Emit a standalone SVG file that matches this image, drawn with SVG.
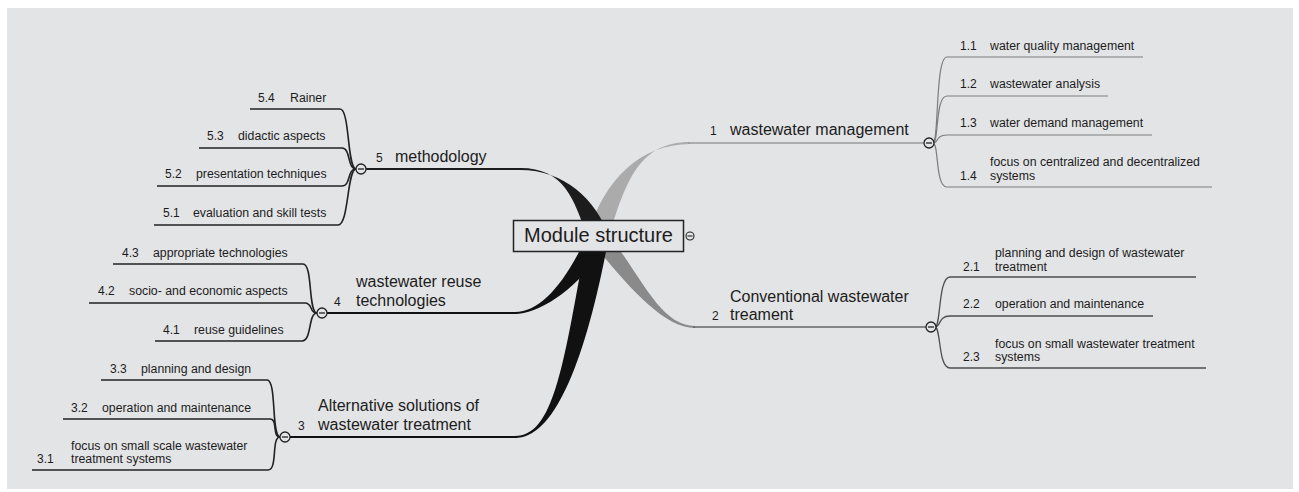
<svg xmlns="http://www.w3.org/2000/svg" width="1299" height="492" viewBox="0 0 1299 492">
  <style>
    text { font-family: "Liberation Sans", Arial, sans-serif; fill: #1c1c1c; }
    .num { font-size: 12px; }
    .sub { font-size: 12.3px; }
    .main { font-size: 16px; }
    .root { font-size: 20px; }
    .fold { fill: #e3e4e6; stroke: #222; stroke-width: 1.3; }
    .minus { stroke: #222; stroke-width: 1.3; }
    .leaf1 { fill: none; stroke: #7c7c7c; stroke-width: 1.2; }
    .leaf2 { fill: none; stroke: #4e4e4e; stroke-width: 1.3; }
    .leafL { fill: none; stroke: #222; stroke-width: 1.6; }
  </style>

  <!-- canvas -->
  <rect x="0" y="0" width="1299" height="492" fill="#ffffff"/>
  <rect x="7" y="8" width="1286" height="481" fill="#e3e4e6"/>

  <g id="connectors">
    <!-- tapered main branches out of the root -->
    <path d="M587,236 C604,180 640,144 690,144 L690,142 C640,142 626,180 609,236 Z" fill="#ababab"/>
    <path d="M587,236 C619,275 660,328 695,328 L695,326 C660,326 641,275 609,236 Z" fill="#8a8a8a"/>
    <path d="M609,236 C596,200 565,170 520,170 L520,168 C565,168 574,200 587,236 Z" fill="#1c1c1c"/>
    <path d="M609,236 C586,285 540,314 515,314 L515,312 C540,312 564,285 587,236 Z" fill="#111"/>
    <path d="M609,236 C586,360 555,438 515,438 L515,436 C555,436 564,360 587,236 Z" fill="#111"/>

    <!-- main branch lines -->
    <line x1="688" y1="143" x2="924" y2="143" stroke="#9a9a9a" stroke-width="1.6"/>
    <line x1="693" y1="327" x2="926" y2="327" stroke="#666" stroke-width="1.6"/>
    <line x1="366" y1="169" x2="522" y2="169" stroke="#1c1c1c" stroke-width="2"/>
    <line x1="327" y1="313" x2="517" y2="313" stroke="#111" stroke-width="1.8"/>
    <line x1="290" y1="437" x2="517" y2="437" stroke="#111" stroke-width="1.8"/>

    <!-- sub-topics of 1 -->
    <path class="leaf1" d="M933,143 C939,143 935,57 947,57 L1143,57"/>
    <path class="leaf1" d="M933,143 C939,143 935,96 947,96 L1108,96"/>
    <path class="leaf1" d="M933,143 C939,143 935,135 947,135 L1152,135"/>
    <path class="leaf1" d="M933,143 C939,143 935,187 947,187 L1212,187"/>

    <!-- sub-topics of 2 -->
    <path class="leaf2" d="M935,327 C941,327 938,277 950,277 L1196,277"/>
    <path class="leaf2" d="M935,327 C941,327 938,316 950,316 L1153,316"/>
    <path class="leaf2" d="M935,327 C941,327 938,368 950,368 L1206,368"/>

    <!-- sub-topics of 5 -->
    <path class="leafL" d="M250,109 L340,109 C350,109 347,169 356,169"/>
    <path class="leafL" d="M199,148 L342,148 C351,148 347,169 356,169"/>
    <path class="leafL" d="M157,186 L342,186 C351,186 347,169 356,169"/>
    <path class="leafL" d="M154,225 L338,225 C349,225 347,169 356,169"/>

    <!-- sub-topics of 4 -->
    <path class="leafL" d="M113,264 L303,264 C313,264 308,313 317,313"/>
    <path class="leafL" d="M89,303 L305,303 C313,303 309,313 317,313"/>
    <path class="leafL" d="M155,341 L302,341 C312,341 308,313 317,313"/>

    <!-- sub-topics of 3 -->
    <path class="leafL" d="M101,380 L267,380 C277,380 271,437 280,437"/>
    <path class="leafL" d="M63,419 L270,419 C278,419 272,437 280,437"/>
    <path class="leafL" d="M32,470 L268,470 C278,470 271,437 280,437"/>
  </g>

  <g id="root">
    <rect x="513.5" y="220.5" width="170" height="31" fill="#e3e4e6" stroke="#222" stroke-width="1.5"/>
    <text class="root" x="598.5" y="242" text-anchor="middle">Module structure</text>
    <circle cx="690" cy="236" r="4" fill="#e3e4e6" stroke="#222" stroke-width="1.1"/>
    <line x1="687.5" y1="236" x2="692.5" y2="236" stroke="#222" stroke-width="1.1"/>
  </g>

  <g id="topic-1">
    <text class="num" x="710" y="135">1</text>
    <text class="main" x="730" y="135">wastewater management</text>
    <circle class="fold" cx="929" cy="143" r="5"/>
    <line class="minus" x1="926" y1="143" x2="932" y2="143"/>
  </g>
  <g id="topic-1-1"><text class="num" x="960" y="50">1.1</text><text class="sub" x="990" y="50">water quality management</text></g>
  <g id="topic-1-2"><text class="num" x="960" y="88">1.2</text><text class="sub" x="990" y="88">wastewater analysis</text></g>
  <g id="topic-1-3"><text class="num" x="960" y="127">1.3</text><text class="sub" x="990" y="127">water demand management</text></g>
  <g id="topic-1-4"><text class="num" x="960" y="180">1.4</text><text class="sub" x="990" y="166">focus on centralized and decentralized</text><text class="sub" x="990" y="180">systems</text></g>

  <g id="topic-2">
    <text class="main" x="730" y="302">Conventional wastewater</text>
    <text class="num" x="712" y="320">2</text>
    <text class="main" x="730" y="320">treament</text>
    <circle class="fold" cx="931" cy="327" r="5"/>
    <line class="minus" x1="928" y1="327" x2="934" y2="327"/>
  </g>
  <g id="topic-2-1"><text class="num" x="963" y="271">2.1</text><text class="sub" x="995" y="257">planning and design of wastewater</text><text class="sub" x="995" y="271">treatment</text></g>
  <g id="topic-2-2"><text class="num" x="963" y="308">2.2</text><text class="sub" x="995" y="308">operation and maintenance</text></g>
  <g id="topic-2-3"><text class="num" x="963" y="361">2.3</text><text class="sub" x="995" y="348">focus on small wastewater treatment</text><text class="sub" x="995" y="361">systems</text></g>

  <g id="topic-5">
    <text class="num" x="376" y="162">5</text>
    <text class="main" x="395" y="162">methodology</text>
    <circle class="fold" cx="361" cy="169" r="5"/>
    <line class="minus" x1="358" y1="169" x2="364" y2="169"/>
  </g>
  <g id="topic-5-4"><text class="num" x="258" y="102">5.4</text><text class="sub" x="290" y="102">Rainer</text></g>
  <g id="topic-5-3"><text class="num" x="207" y="140">5.3</text><text class="sub" x="238" y="140">didactic aspects</text></g>
  <g id="topic-5-2"><text class="num" x="165" y="178">5.2</text><text class="sub" x="196" y="178">presentation techniques</text></g>
  <g id="topic-5-1"><text class="num" x="163" y="217">5.1</text><text class="sub" x="193" y="217">evaluation and skill tests</text></g>

  <g id="topic-4">
    <text class="main" x="356" y="287">wastewater reuse</text>
    <text class="num" x="334" y="306">4</text>
    <text class="main" x="356" y="306">technologies</text>
    <circle class="fold" cx="322" cy="313" r="5"/>
    <line class="minus" x1="319" y1="313" x2="325" y2="313"/>
  </g>
  <g id="topic-4-3"><text class="num" x="122" y="257">4.3</text><text class="sub" x="153" y="257">appropriate technologies</text></g>
  <g id="topic-4-2"><text class="num" x="98" y="295">4.2</text><text class="sub" x="129" y="295">socio- and economic aspects</text></g>
  <g id="topic-4-1"><text class="num" x="163" y="334">4.1</text><text class="sub" x="194" y="334">reuse guidelines</text></g>

  <g id="topic-3">
    <text class="main" x="318" y="411">Alternative solutions of</text>
    <text class="num" x="298" y="430">3</text>
    <text class="main" x="318" y="430">wastewater treatment</text>
    <circle class="fold" cx="285" cy="437" r="5"/>
    <line class="minus" x1="282" y1="437" x2="288" y2="437"/>
  </g>
  <g id="topic-3-3"><text class="num" x="110" y="373">3.3</text><text class="sub" x="141" y="373">planning and design</text></g>
  <g id="topic-3-2"><text class="num" x="71" y="412">3.2</text><text class="sub" x="102" y="412">operation and maintenance</text></g>
  <g id="topic-3-1"><text class="num" x="37" y="463">3.1</text><text class="sub" x="71" y="450">focus on small scale wastewater</text><text class="sub" x="71" y="463">treatment systems</text></g>
</svg>
